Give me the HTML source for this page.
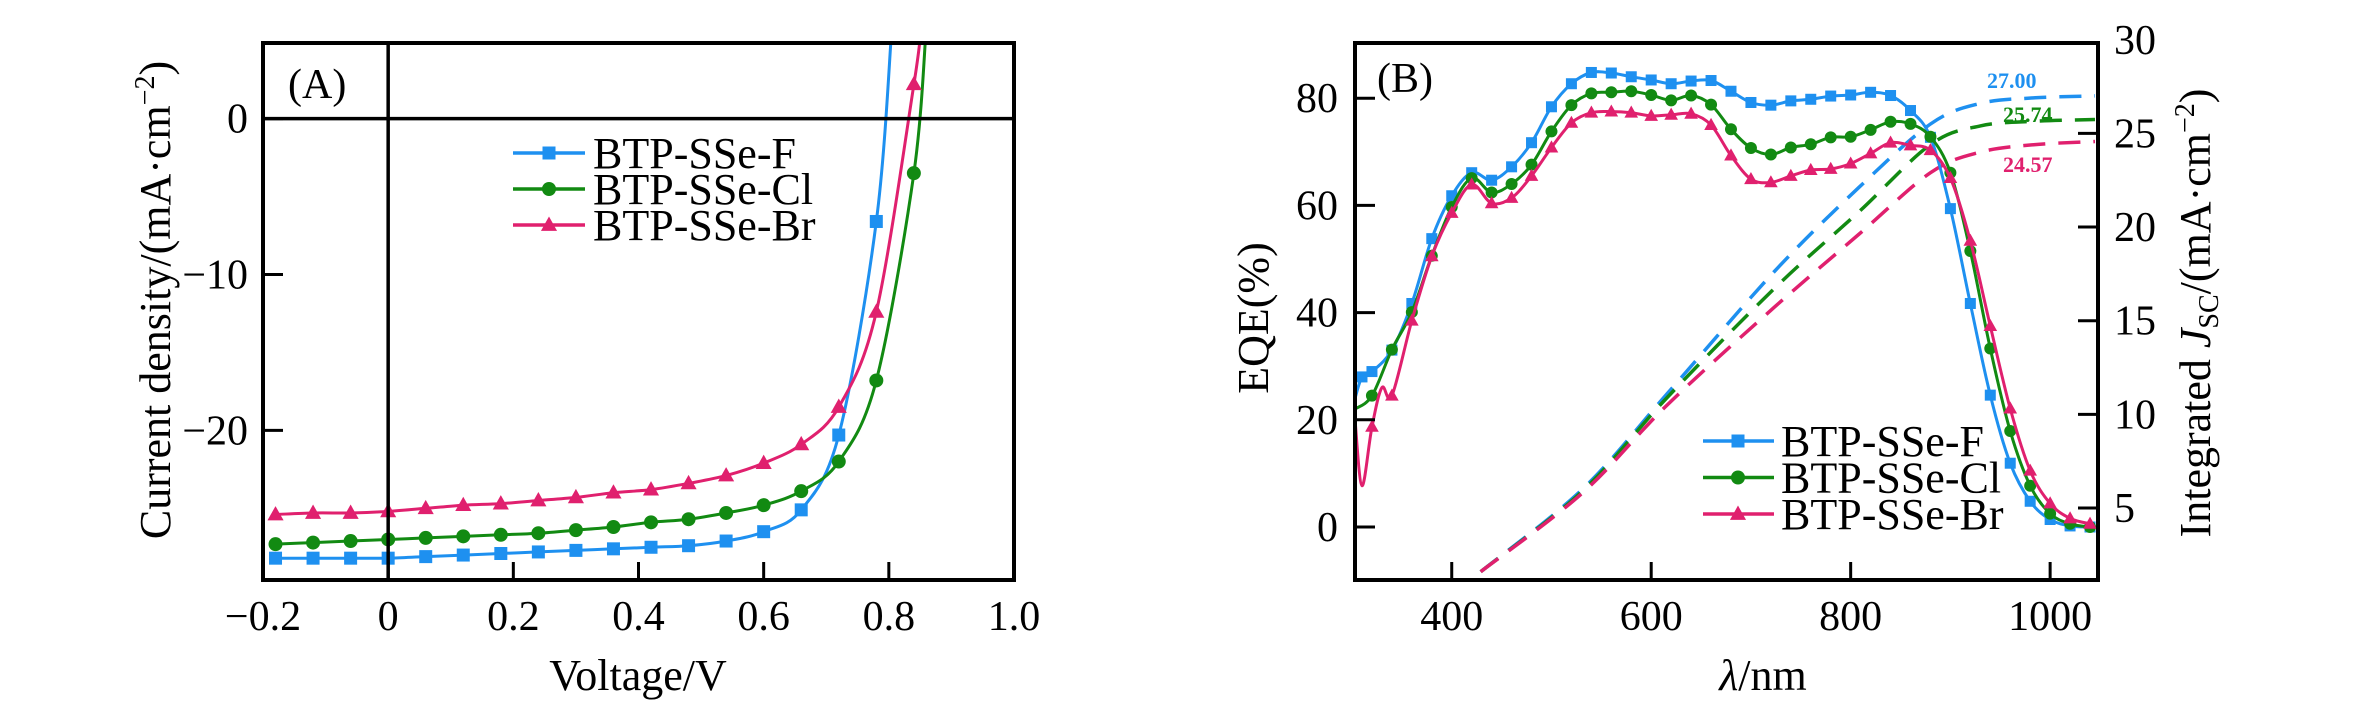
<!DOCTYPE html>
<html><head><meta charset="utf-8"><style>
html,body{margin:0;padding:0;background:#fff;}
svg{display:block;font-family:"Liberation Serif",serif;}
</style></head><body>
<svg id="chart" width="2362" height="709" viewBox="0 0 2362 709" xmlns="http://www.w3.org/2000/svg">
<g id="pa"></g>
<g id="pb"></g>
</svg>
<script>
// ---------- Panel A data ----------
const jvVoltage = [-0.18,-0.12,-0.06,0,0.06,0.12,0.18,0.24,0.30,0.36,0.42,0.48,0.54,0.60,0.66,0.72,0.78,0.84];
const jvF  = [-28.2,-28.2,-28.2,-28.2,-28.1,-28.0,-27.9,-27.8,-27.7,-27.6,-27.5,-27.4,-27.1,-26.5,-25.1,-20.3,-6.6];
const jvCl = [-27.3,-27.2,-27.1,-27.0,-26.9,-26.8,-26.7,-26.6,-26.4,-26.2,-25.9,-25.7,-25.3,-24.8,-23.9,-22.0,-16.8,-3.5];
const jvBr = [-25.4,-25.3,-25.3,-25.2,-25.0,-24.8,-24.7,-24.5,-24.3,-24.0,-23.8,-23.4,-22.9,-22.1,-20.9,-18.5,-12.4,2.2];
const jvTailV = [0.805, 0.86, 0.852];
const jvTailJ = [6, 6, 6];
const jvXTicks = [-0.2,0,0.2,0.4,0.6,0.8,1.0];
const jvXTickLabels = ["\u22120.2","0","0.2","0.4","0.6","0.8","1.0"];
const jvYTicks = [0,-10,-20];
const jvYTickLabels = ["0","\u221210","\u221220"];
const seriesNames = ["BTP-SSe-F","BTP-SSe-Cl","BTP-SSe-Br"];

// ---------- Panel B data ----------
const wlF  = [303,310,320,340,360,380,400,420,440,460,480,500,520,540,560,580,600,620,640,660,680,700,720,740,760,780,800,820,840,860,880,900,920,940,960,980,1000,1020,1040];
const eqeF = [24,28,29,33,41.7,53.8,61.8,66.1,64.7,67.2,71.7,78.4,82.7,84.8,84.7,84,83.4,82.7,83.2,83.3,81.3,79.2,78.7,79.5,79.8,80.4,80.6,81.1,80.5,77.7,72.7,59.4,41.7,24.6,11.9,4.8,1.4,0.2,0];
const wlCl  = [303,320,340,360,380,400,420,440,460,480,500,520,540,560,580,600,620,640,660,680,700,720,740,760,780,800,820,840,860,880,900,920,940,960,980,1000,1020,1040];
const eqeCl = [22,24.5,33.1,40.1,50.6,59.7,65.1,62.4,64,67.6,73.8,78.7,80.9,81.1,81.3,80.6,79.6,80.5,78.8,74.2,70.7,69.5,70.8,71.4,72.7,72.8,74.1,75.6,75.2,72.8,66.1,51.5,33.3,17.9,7.7,2.5,0.6,0];
const wlBr  = [303,310,320,330,340,360,380,400,420,440,460,480,500,520,540,560,580,600,620,640,660,680,700,720,740,760,780,800,820,840,860,880,900,920,940,960,980,1000,1020,1040];
const eqeBr = [20,7.7,18.7,26,24.5,38.5,50.5,58.6,63.9,60.4,61.4,65.5,70.8,75.4,77.3,77.5,77.3,76.7,76.9,77.1,75,69.3,64.9,64.3,65.5,66.6,66.8,67.8,69.7,71.7,71.2,70.3,65.1,53.4,37.5,22.1,10.5,4.4,1.6,0.6];
const brMarkerSkip = [0,1,3]; // indices without markers (curve-only points)
const intWl = [429,531,616,723,808,880,930,985,1045];
const intF  = [1.6,6.0,11.1,17.6,22.1,25.5,26.6,26.9,27.0];
const intCl = [1.6,5.9,10.9,16.7,20.8,24.4,25.4,25.65,25.74];
const intBr = [1.6,5.8,10.5,15.7,19.6,22.9,24.0,24.4,24.57];
const jscLabels = ["27.00","25.74","24.57"];
const bXTicks = [400,600,800,1000];
const bYTicks = [0,20,40,60,80];
const bRTicks = [5,10,15,20,25,30];

const NS="http://www.w3.org/2000/svg";
const COLORS=["#1e90f0","#128a12","#e0206e"];
function mk(parent,tag,attrs){const e=document.createElementNS(NS,tag);for(const k in attrs)e.setAttribute(k,attrs[k]);parent.appendChild(e);return e;}
function smooth(pts){ // catmull-rom
  if(pts.length<2)return "";
  let d="M"+pts[0][0].toFixed(1)+","+pts[0][1].toFixed(1);
  for(let i=0;i<pts.length-1;i++){
    const p0=pts[i-1]||pts[i],p1=pts[i],p2=pts[i+1],p3=pts[i+2]||p2;
    const c1=[p1[0]+(p2[0]-p0[0])/6,p1[1]+(p2[1]-p0[1])/6];
    const c2=[p2[0]-(p3[0]-p1[0])/6,p2[1]-(p3[1]-p1[1])/6];
    d+=" C"+c1[0].toFixed(1)+","+c1[1].toFixed(1)+" "+c2[0].toFixed(1)+","+c2[1].toFixed(1)+" "+p2[0].toFixed(1)+","+p2[1].toFixed(1);
  }
  return d;
}
function marker(g,type,x,y,s,color){
  let m;
  if(type===0){m=mk(g,"rect",{x:x-s/2,y:y-s/2,width:s,height:s,fill:color});}
  else if(type===1){m=mk(g,"circle",{cx:x,cy:y,r:s/2+0.5,fill:color});}
  else{m=mk(g,"polygon",{points:`${x},${y-s*0.65} ${x-s*0.62},${y+s*0.45} ${x+s*0.62},${y+s*0.45}`,fill:color});}
  return m;
}
function txt(g,x,y,s,attrs){const t=mk(g,"text",attrs);t.setAttribute("x",x);t.setAttribute("y",y);t.textContent=s;return t;}

// ---------- Panel A ----------
(function(){
  const g=document.getElementById("pa");
  const L=263,R=1014,T=43,B=580;
  const xmin=-0.2,xmax=1.0,ymin=-29.6,ymax=4.85;
  const X=v=>L+(v-xmin)/(xmax-xmin)*(R-L);
  const Y=v=>T+(ymax-v)/(ymax-ymin)*(B-T);
  mk(g,"defs",{}).innerHTML=`<clipPath id="clipA"><rect x="${L}" y="${T}" width="${R-L}" height="${B-T}"/></clipPath>`;
  const series=[jvF,jvCl,jvBr];
  series.forEach((arr,si)=>{
    const sg=mk(g,"g",{"clip-path":"url(#clipA)"});
    
    
    const pts=arr.map((v,i)=>[X(jvVoltage[i]),Y(v)]);
    pts.push([X(jvTailV[si]),Y(jvTailJ[si])]);
    const p=mk(sg,"path",{d:smooth(pts),fill:"none",stroke:COLORS[si],"stroke-width":3});
    
    
    arr.forEach((v,i)=>{const m=marker(sg,si,X(jvVoltage[i]),Y(v),13,COLORS[si]);
      
      });
  });
  // zero lines
  mk(g,"line",{x1:L,x2:R,y1:Y(0),y2:Y(0),stroke:"#000","stroke-width":3.5,});
  mk(g,"line",{x1:X(0),x2:X(0),y1:T,y2:B,stroke:"#000","stroke-width":3.5,});
  mk(g,"rect",{x:L,y:T,width:R-L,height:B-T,fill:"none",stroke:"#000","stroke-width":4,});
  jvXTicks.forEach((v,i)=>{
    const l=mk(g,"line",{x1:X(v),x2:X(v),y1:B,y2:B-18,stroke:"#000","stroke-width":3});
     
    const t=txt(g,X(v),630,jvXTickLabels[i],{"font-size":42,"text-anchor":"middle"});
     
  });
  jvYTicks.forEach((v,i)=>{
    const l=mk(g,"line",{x1:L,x2:L+20,y1:Y(v),y2:Y(v),stroke:"#000","stroke-width":3});
     
    const t=txt(g,248,Y(v)+14,jvYTickLabels[i],{"font-size":42,"text-anchor":"end"});
     
  });
  txt(g,638,690,"Voltage/V",{"font-size":44,"text-anchor":"middle",});
  const yt=mk(g,"text",{x:0,y:0,"font-size":44,"text-anchor":"middle",transform:"translate(170,300) rotate(-90)",});
  yt.innerHTML='Current density/(mA\u00b7cm<tspan dy="-16" font-size="28">\u22122</tspan><tspan dy="16">)</tspan>';
  txt(g,288,98,"(A)",{"font-size":42,});
  const lg=mk(g,"g",{});
  seriesNames.forEach((n,i)=>{
    const y=153+i*36;
    mk(lg,"line",{x1:513,x2:585,y1:y,y2:y,stroke:COLORS[i],"stroke-width":3.5});
    const m=marker(lg,i,549,y,13,COLORS[i]);
    const t=txt(lg,593,y+15,n,{"font-size":44});
     
  });
})();

// ---------- Panel B ----------
(function(){
  const g=document.getElementById("pb");
  const L=1355,R=2098,T=43,B=580;
  const xmin=303,xmax=1048;
  const X=v=>L+(v-xmin)/(xmax-xmin)*(R-L);
  const Y=v=>527-v*5.36;
  const YR=v=>508-(v-5)*18.73;
  mk(g,"defs",{}).innerHTML=`<clipPath id="clipB"><rect x="${L}" y="${T}" width="${R-L}" height="${B-T}"/></clipPath>`;
  const wls=[wlF,wlCl,wlBr],eqes=[eqeF,eqeCl,eqeBr],ints=[intF,intCl,intBr];
  ints.forEach((arr,si)=>{
    const p=mk(g,"path",{d:smooth(arr.map((v,i)=>[X(intWl[i]),YR(v)])),fill:"none",stroke:COLORS[si],"stroke-width":3.5,"stroke-dasharray":"22 13","clip-path":"url(#clipB)"});
    
    
  });
  eqes.forEach((arr,si)=>{
    const sg=mk(g,"g",{"clip-path":"url(#clipB)"});
    
    
    const wl=wls[si];
    mk(sg,"path",{d:smooth(arr.map((v,i)=>[X(wl[i]),Y(v)])),fill:"none",stroke:COLORS[si],"stroke-width":3});
    arr.forEach((v,i)=>{
      if(i===0)return;
      if(si===2&&brMarkerSkip.indexOf(i)>=0)return;
      const m=marker(sg,si,X(wl[i]),Y(v),11,COLORS[si]);
      
      
    });
  });
  mk(g,"rect",{x:L,y:T,width:R-L,height:B-T,fill:"none",stroke:"#000","stroke-width":4,});
  bXTicks.forEach(v=>{
    const l=mk(g,"line",{x1:X(v),x2:X(v),y1:B,y2:B-18,stroke:"#000","stroke-width":3});
     
    const t=txt(g,X(v),630,String(v),{"font-size":42,"text-anchor":"middle"});
     
  });
  bYTicks.forEach(v=>{
    const l=mk(g,"line",{x1:L,x2:L+20,y1:Y(v),y2:Y(v),stroke:"#000","stroke-width":3});
     
    const t=txt(g,1338,Y(v)+14,String(v),{"font-size":42,"text-anchor":"end"});
     
  });
  bRTicks.forEach(v=>{
    if(YR(v)>T+2){const l=mk(g,"line",{x1:R,x2:R-20,y1:YR(v),y2:YR(v),stroke:"#000","stroke-width":3});
     }
    const t=txt(g,2114,YR(v)+14,String(v),{"font-size":42});
     
  });
  const xt=mk(g,"text",{x:1763,y:690,"font-size":44,"text-anchor":"middle",});
  xt.innerHTML='<tspan font-style="italic">\u03bb</tspan>/nm';
  txt(g,0,0,"EQE(%)",{"font-size":44,"text-anchor":"middle",transform:"translate(1268,318) rotate(-90)",});
  const rt=mk(g,"text",{x:0,y:0,"font-size":44,"text-anchor":"middle",transform:"translate(2210,313) rotate(-90)",});
  rt.innerHTML='Integrated <tspan font-style="italic">J</tspan><tspan font-size="28" dy="8">SC</tspan><tspan dy="-8">/(mA\u00b7cm</tspan><tspan dy="-16" font-size="28">\u22122</tspan><tspan dy="16">)</tspan>';
  txt(g,1377,92,"(B)",{"font-size":42,});
  const lpos=[[1987,88],[2003,122],[2003,172]];
  jscLabels.forEach((s,i)=>{
    const t=txt(g,lpos[i][0],lpos[i][1],s,{"font-size":22,"font-weight":"bold",fill:COLORS[i]});
     
  });
  const lg=mk(g,"g",{});
  seriesNames.forEach((n,i)=>{
    const y=441+i*36.5;
    mk(lg,"line",{x1:1703,x2:1774,y1:y,y2:y,stroke:COLORS[i],"stroke-width":3.5});
    marker(lg,i,1738,y,13,COLORS[i]);
    const t=txt(lg,1781,y+15,n,{"font-size":44});
     
  });
})();
</script>
</body></html>
